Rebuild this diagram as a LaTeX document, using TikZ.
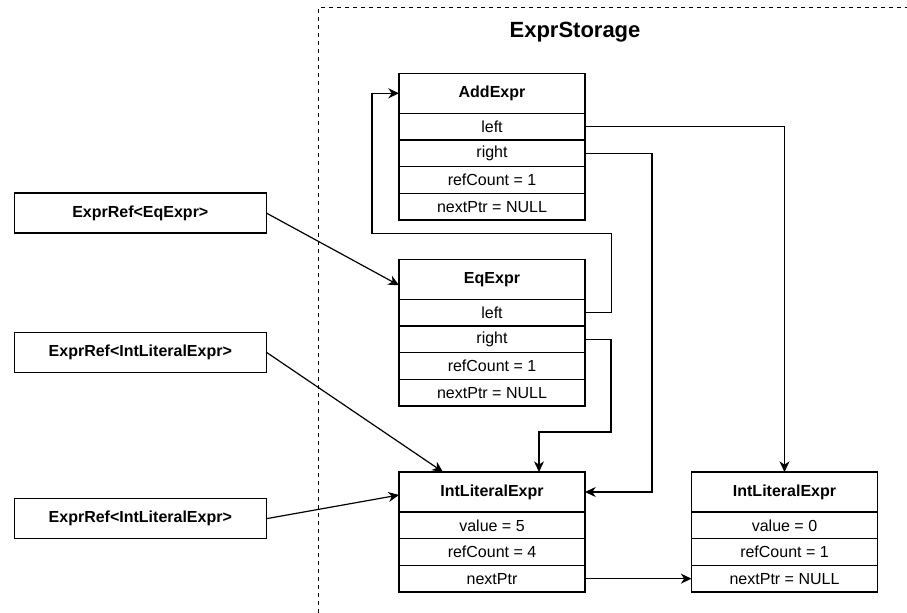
\documentclass[tikz,border=0pt]{standalone}
\usepackage{fontspec}
\setmainfont{Liberation Sans}
\usetikzlibrary{arrows.meta,calc}
\begin{document}
\begin{tikzpicture}[x=0.75pt,y=-0.75pt,line width=0.9pt,
  every node/.style={inner sep=0pt,outer sep=0pt,font=\fontsize{12}{14}\selectfont},
  hdr/.style={draw,minimum width=139.5pt,minimum height=30pt,anchor=north,font=\fontsize{12}{14}\selectfont\bfseries},
  fld/.style={draw,minimum width=139.5pt,minimum height=20pt,anchor=north},
  refbox/.style={draw,minimum width=189pt,minimum height=30pt,font=\fontsize{12}{14}\selectfont\bfseries},
  conn/.style={-{Stealth[length=8pt,width=7.5pt,inset=2.5pt]}},
  border/.style={line width=0.75pt,dash pattern=on 3pt off 3pt}
]
\useasboundingbox (0,0) rectangle (907,613);

% storage border
\coordinate (bl) at (318,613);
\coordinate (tl) at (318,7.5);
\coordinate (tr) at (907,7.5);
\draw[border] (bl) -- (tl) -- (tr);
\node[font=\fontsize{16.5}{20}\selectfont\bfseries] (title) at (575,32) {ExprStorage};

% AddExpr
\node[hdr] (addh) at (492,73.3) {AddExpr};
\node[fld] (addl) at (addh.south) {left};
\node[fld] (addr) at (addl.south) {right};
\node[fld] (addc) at (addr.south) {refCount = 1};
\node[fld] (addn) at (addc.south) {nextPtr = NULL};

% EqExpr
\node[hdr] (eqh) at (492,259.3) {EqExpr};
\node[fld] (eql) at (eqh.south) {left};
\node[fld] (eqr) at (eql.south) {right};
\node[fld] (eqc) at (eqr.south) {refCount = 1};
\node[fld] (eqn) at (eqc.south) {nextPtr = NULL};

% IntLiteralExpr (left)
\node[hdr] (intlh) at (492,472) {IntLiteralExpr};
\node[fld] (intlv) at (intlh.south) {value = 5};
\node[fld] (intlc) at (intlv.south) {refCount = 4};
\node[fld] (intln) at (intlc.south) {nextPtr};

% IntLiteralExpr (right)
\node[hdr] (intrh) at (784.5,472) {IntLiteralExpr};
\node[fld] (intrv) at (intrh.south) {value = 0};
\node[fld] (intrc) at (intrv.south) {refCount = 1};
\node[fld] (intrn) at (intrc.south) {nextPtr = NULL};

% references
\node[refbox] (refeq) at (140.3,213) {ExprRef<EqExpr>};
\node[refbox] (refint1) at (140.3,352.2) {ExprRef<IntLiteralExpr>};
\node[refbox] (refint2) at (140.3,518.7) {ExprRef<IntLiteralExpr>};

% connectors
\draw[conn] (refeq.east) -- ($(eqh.west)+(0,6)$);
\draw[conn] (refint1.east) -- ($(intlh.north west)+(44,0)$);
\draw[conn] (refint2.east) -- ($(intlh.west)+(0,3)$);
\draw[conn] (eql.east) -| ($(eqh.north east)+(26.5,-26)$) -| ($(addh.west)+(-27,0)$) -- (addh.west);
\draw[conn] (eqr.east) -| ($(intlh.north east)+(26,-40)$) -| ($(intlh.north)+(47,0)$);
\draw[conn] (addr.east) -| ($(intlh.east)+(67,0)$) -- (intlh.east);
\draw[conn] (addl.east) -| (intrh.north);
\draw[conn] (intln.east) -- (intrn.west);
\end{tikzpicture}
\end{document}
